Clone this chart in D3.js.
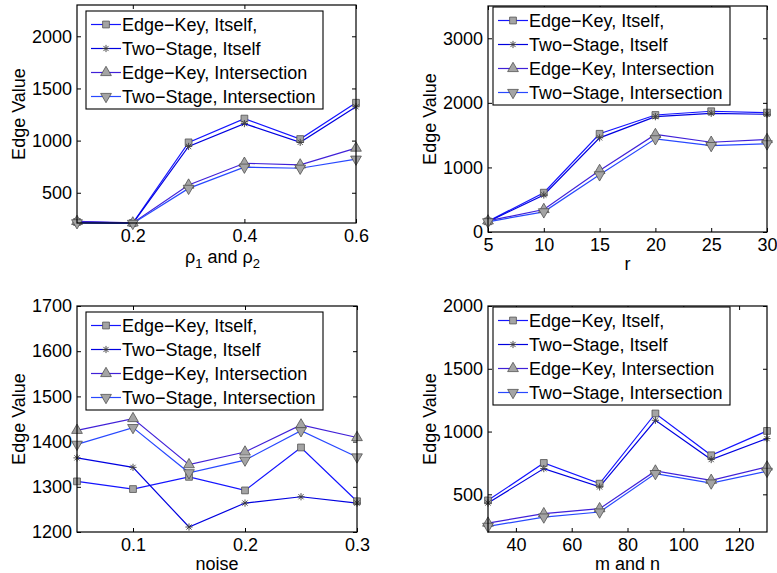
<!DOCTYPE html>
<html>
<head>
<meta charset="utf-8">
<script src="https://cdn.jsdelivr.net/npm/d3@7"></script>
<style>
  html, body { margin: 0; padding: 0; background: #fff; }
  svg { display: block; font-family: "Liberation Sans", Arial, Helvetica, sans-serif; }
</style>
</head>
<body>
<svg id="fig" width="777" height="573"></svg>
<script>
// Series shared by every panel
const seriesNames = ["Edge\u2212Key, Itself,", "Two\u2212Stage, Itself", "Edge\u2212Key, Intersection", "Two\u2212Stage, Intersection"];

// Panel (a): varying rho1 and rho2
const rhoValues = [0.1, 0.2, 0.3, 0.4, 0.5, 0.6];
const rhoEdgeKeyItself = [220, 210, 983, 1211, 1015, 1363];
const rhoTwoStageItself = [214, 207, 944, 1163, 983, 1324];
const rhoEdgeKeyInter = [225, 211, 574, 783, 767, 928];
const rhoTwoStageInter = [212, 206, 542, 745, 735, 822];
const rhoXTicks = [0.2, 0.4, 0.6];
const rhoYTicks = [500, 1000, 1500, 2000];

// Panel (b): varying r
const rValues = [5, 10, 15, 20, 25, 30];
const rEdgeKeyItself = [165, 609, 1521, 1812, 1870, 1849];
const rTwoStageItself = [160, 573, 1458, 1786, 1838, 1823];
const rEdgeKeyInter = [172, 349, 953, 1510, 1390, 1432];
const rTwoStageInter = [158, 312, 885, 1443, 1338, 1365];
const rXTicks = [5, 10, 15, 20, 25, 30];
const rYTicks = [0, 1000, 2000, 3000];

// Panel (c): varying noise
const noiseValues = [0.05, 0.1, 0.15, 0.2, 0.25, 0.3];
const noiseEdgeKeyItself = [1312, 1295, 1322, 1292, 1387, 1268];
const noiseTwoStageItself = [1364, 1343, 1211, 1264, 1278, 1264];
const noiseEdgeKeyInter = [1425, 1451, 1349, 1377, 1437, 1409];
const noiseTwoStageInter = [1394, 1431, 1331, 1359, 1424, 1366];
const noiseXTicks = [0.1, 0.2, 0.3];
const noiseYTicks = [1200, 1300, 1400, 1500, 1600, 1700];

// Panel (d): varying m and n
const mnValues = [30, 50, 70, 90, 110, 130];
const mnEdgeKeyItself = [452, 750, 585, 1144, 811, 1005];
const mnTwoStageItself = [431, 705, 559, 1090, 777, 944];
const mnEdgeKeyInter = [271, 346, 386, 686, 612, 718];
const mnTwoStageInter = [245, 319, 359, 665, 590, 683];
const mnXTicks = [40, 60, 80, 100, 120];
const mnYTicks = [500, 1000, 1500, 2000];

// Line colours and marker kinds per series
const lineColors = ["#1414ff", "#0000e0", "#4020d8", "#2848ff"];
const markerKinds = ["square", "star", "triUp", "triDown"];

const panels = [
  { x: rhoValues, ys: [rhoEdgeKeyItself, rhoTwoStageItself, rhoEdgeKeyInter, rhoTwoStageInter],
    xDomain: [0.1, 0.6], yDomain: [210, 2300], xTicks: rhoXTicks, yTicks: rhoYTicks,
    box: { l: 77, r: 356, t: 5, b: 223 }, legend: { x: 86, y: 11 }, xLabel: "rho", xLabelDy: 35, yLabelX: 19 },
  { x: rValues, ys: [rEdgeKeyItself, rTwoStageItself, rEdgeKeyInter, rTwoStageInter],
    xDomain: [5, 30], yDomain: [0, 3500], xTicks: rXTicks, yTicks: rYTicks,
    box: { l: 488, r: 767, t: 6, b: 232 }, legend: { x: 493, y: 7 }, xLabel: "r", xLabelDy: 33, yLabelX: 430 },
  { x: noiseValues, ys: [noiseEdgeKeyItself, noiseTwoStageItself, noiseEdgeKeyInter, noiseTwoStageInter],
    xDomain: [0.05, 0.3], yDomain: [1200, 1700], xTicks: noiseXTicks, yTicks: noiseYTicks,
    box: { l: 77, r: 357, t: 306, b: 532 }, legend: { x: 86, y: 312 }, xLabel: "noise", xLabelDy: 33, yLabelX: 19 },
  { x: mnValues, ys: [mnEdgeKeyItself, mnTwoStageItself, mnEdgeKeyInter, mnTwoStageInter],
    xDomain: [30, 130], yDomain: [200, 2000], xTicks: mnXTicks, yTicks: mnYTicks,
    box: { l: 488, r: 767, t: 306, b: 532 }, legend: { x: 493, y: 307 }, xLabel: "m and n", xLabelDy: 33, yLabelX: 430 }
];

const svg = d3.select("#fig");
const FONT = 18;
const TICK = 4;

function drawMarker(g, kind, cx, cy) {
  const fill = "#a4a4a4", stroke = "#505050";
  if (kind === "square") {
    g.append("path").attr("d", d3.symbol(d3.symbolSquare, 46)())
      .attr("transform", `translate(${cx},${cy})`)
      .attr("fill", fill).attr("stroke", stroke).attr("stroke-width", 0.8);
  } else if (kind === "triUp" || kind === "triDown") {
    g.append("path").attr("d", d3.symbol(d3.symbolTriangle, 50)())
      .attr("transform", `translate(${cx},${cy})${kind === "triDown" ? " rotate(180)" : ""}`)
      .attr("fill", fill).attr("stroke", stroke).attr("stroke-width", 0.8);
  } else {
    const s = 3.6, d = s * 0.72;
    const p = d3.path();
    p.moveTo(cx - s, cy); p.lineTo(cx + s, cy);
    p.moveTo(cx, cy - s); p.lineTo(cx, cy + s);
    p.moveTo(cx - d, cy - d); p.lineTo(cx + d, cy + d);
    p.moveTo(cx - d, cy + d); p.lineTo(cx + d, cy - d);
    g.append("path").attr("d", p.toString()).attr("fill", "none")
      .attr("stroke", "#3c3c3c").attr("stroke-width", 0.9);
  }
}

panels.forEach(pn => {
  const { l, r, t, b } = pn.box;
  const x = d3.scaleLinear().domain(pn.xDomain).range([l, r]);
  const y = d3.scaleLinear().domain(pn.yDomain).range([b, t]);
  const g = svg.append("g");

  // Axes box with inward ticks on all four sides (ticks via d3 axes)
  const fmt = d => String(d);
  g.append("g").attr("transform", `translate(0,${b})`)
    .call(d3.axisBottom(x).tickValues(pn.xTicks).tickSize(-TICK).tickPadding(6).tickFormat(fmt))
    .call(a => a.select(".domain").remove());
  g.append("g").attr("transform", `translate(0,${t})`)
    .call(d3.axisTop(x).tickValues(pn.xTicks).tickSize(-TICK).tickFormat(""))
    .call(a => a.select(".domain").remove());
  g.append("g").attr("transform", `translate(${l},0)`)
    .call(d3.axisLeft(y).tickValues(pn.yTicks).tickSize(-TICK).tickPadding(5).tickFormat(fmt))
    .call(a => a.select(".domain").remove());
  g.append("g").attr("transform", `translate(${r},0)`)
    .call(d3.axisRight(y).tickValues(pn.yTicks).tickSize(-TICK).tickFormat(""))
    .call(a => a.select(".domain").remove());
  g.selectAll(".tick line").attr("stroke", "#000").attr("stroke-width", 1);
  g.selectAll(".tick text").attr("fill", "#000").style("font-size", FONT + "px")
    .style("font-family", "'Liberation Sans', Arial, sans-serif");

  // Data lines and markers
  const line = d3.line().x((d, i) => x(pn.x[i])).y(d => y(d));
  const dataG = g.append("g");
  pn.ys.forEach((vals, si) => {
    dataG.append("path").datum(vals).attr("d", line)
      .attr("fill", "none").attr("stroke", lineColors[si]).attr("stroke-width", 1.2);
  });
  pn.ys.forEach((vals, si) => {
    vals.forEach((v, i) => drawMarker(dataG, markerKinds[si], x(pn.x[i]), y(v)));
  });

  g.append("rect").attr("x", l).attr("y", t).attr("width", r - l).attr("height", b - t)
    .attr("fill", "none").attr("stroke", "#000").attr("stroke-width", 1.2);

  // Axis labels
  g.append("text").attr("transform", `translate(${pn.yLabelX},${(t + b) / 2}) rotate(-90)`)
    .attr("text-anchor", "middle").attr("dy", "0.35em").style("font-size", FONT + "px")
    .text("Edge Value");
  const xl = g.append("text").attr("x", (l + r) / 2 + (pn.xLabel === "rho" ? 6 : 0))
    .attr("y", b + pn.xLabelDy).attr("dy", "0.3em").attr("text-anchor", "middle")
    .style("font-size", FONT + "px");
  if (pn.xLabel === "rho") {
    xl.append("tspan").text("\u03C1");
    xl.append("tspan").attr("dy", 5).style("font-size", "13px").text("1");
    xl.append("tspan").attr("dy", -5).text(" and \u03C1");
    xl.append("tspan").attr("dy", 5).style("font-size", "13px").text("2");
  } else {
    xl.text(pn.xLabel);
  }

  // Legend
  const lg = g.append("g").attr("transform", `translate(${pn.legend.x},${pn.legend.y})`);
  lg.append("rect").attr("x", 0).attr("y", 0).attr("width", 237).attr("height", 98)
    .attr("fill", "#fff").attr("stroke", "#000").attr("stroke-width", 1.1);
  seriesNames.forEach((name, si) => {
    const ry = 13.5 + si * 24;
    lg.append("line").attr("x1", 5).attr("x2", 35).attr("y1", ry).attr("y2", ry)
      .attr("stroke", lineColors[si]).attr("stroke-width", 1.2);
    drawMarker(lg, markerKinds[si], 20, ry);
    lg.append("text").attr("x", 36).attr("y", ry).attr("dy", "0.35em")
      .style("font-size", FONT + "px").text(name);
  });
});
</script>
</body>
</html>
